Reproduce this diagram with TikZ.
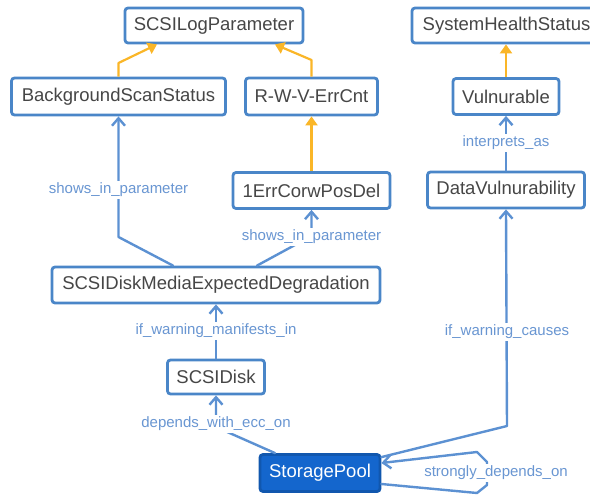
\documentclass[tikz,border=0pt]{standalone}
\usepackage{fontspec}
\setmainfont{Liberation Sans}
\usetikzlibrary{arrows.meta}
\definecolor{boxblue}{RGB}{74,134,200}
\definecolor{edgeblue}{RGB}{92,145,210}
\definecolor{lblblue}{RGB}{105,150,210}
\definecolor{yel}{RGB}{250,182,40}
\definecolor{spfill}{RGB}{20,102,205}
\definecolor{txt}{RGB}{70,70,70}
\begin{document}
\begin{tikzpicture}[x=1pt,y=-1pt,
 box/.style={draw=boxblue, line width=2.8pt, rounded corners=3pt, fill=white, text=txt,
   font=\fontsize{18.5}{20}\selectfont, inner sep=0pt, anchor=center},
 spbox/.style={box, fill=spfill, draw=spfill!85!black, text=white},
 bl/.style={draw=edgeblue, line width=2.4pt, line join=round, line cap=round,
   -{Straight Barb[length=7.5pt,width=13pt]}},
 yl/.style={draw=yel, line width=2.2pt, line join=round, -{Triangle[length=9pt,width=12pt]}},
 lbl/.style={fill=white, text=lblblue, font=\fontsize{15}{16}\selectfont, inner sep=2pt}]
\useasboundingbox (0,0) rectangle (590,495);
\clip (0,0) rectangle (590,495);

% nodes
\node[box, minimum width=178pt, minimum height=35pt] (logp) at (214,25.5) {SCSILogParameter};
\node[box, minimum width=214pt, minimum height=37pt] (bss) at (118.5,96.5) {BackgroundScanStatus};
\node[box, minimum width=132pt, minimum height=37pt] (rwv) at (311.5,96.5) {R-W-V-ErrCnt};
\node[box, minimum width=189pt, minimum height=35pt] (shs) at (506.5,25.5) {SystemHealthStatus};
\node[box, minimum width=106pt, minimum height=36pt] (vul) at (506,96.5) {Vulnurable};
\node[box, minimum width=157pt, minimum height=36pt] (dv) at (506,190) {DataVulnurability};
\node[box, minimum width=157pt, minimum height=36pt] (err) at (311.5,190.5) {1ErrCorwPosDel};
\node[box, minimum width=328pt, minimum height=36pt] (med) at (216,285) {SCSIDiskMediaExpectedDegradation};
\node[box, minimum width=97pt, minimum height=34pt] (disk) at (216,377) {SCSIDisk};
\node[spbox, minimum width=120pt, minimum height=37pt] (sp) at (320,473) {StoragePool};

% yellow (is-a) edges
\draw[yl] (bss.north) -- (118.5,63) -- ([xshift=-57pt]logp.south);
\draw[yl] (rwv.north) -- (311.5,60) -- ([xshift=61pt]logp.south);
\draw[yl] (vul.north) -- (shs.south -| vul.north);
\draw[yl] (err.north) -- (rwv.south);

% blue relation edges
\draw[bl] (dv.north) -- (vul.south);
\draw[bl] ([xshift=-43pt]med.north) -- (118.5,237) -- (bss.south);
\draw[bl] ([xshift=41pt]med.north) -- (311.5,236) -- (err.south);
\draw[bl] (disk.north) -- (med.south);
\draw[bl] ([xshift=-45pt]sp.north) -- (216,427) -- (disk.south);
\draw[bl] ([yshift=-4pt]sp.north east) -- (507,426) -- (dv.south);
\draw[bl] ([yshift=-11pt]sp.east) -- (477,493) -- (487,485) -- (487,462) -- (477,452) -- ([yshift=10pt]sp.east);

% labels
\node[lbl] (l1) at (506,143) {interprets\_as};
\node[lbl] (l2) at (118.5,190) {shows\_in\_parameter};
\node[lbl] (l3) at (311.5,237) {shows\_in\_parameter};
\node[lbl] (l4) at (216,331) {if\_warning\_manifests\_in};
\node[lbl] (l5) at (216,424) {depends\_with\_ecc\_on};
\node[lbl] (l6) at (507,332) {if\_warning\_causes};
\node[lbl] (l7) at (496,473) {strongly\_depends\_on};
\end{tikzpicture}
\end{document}
